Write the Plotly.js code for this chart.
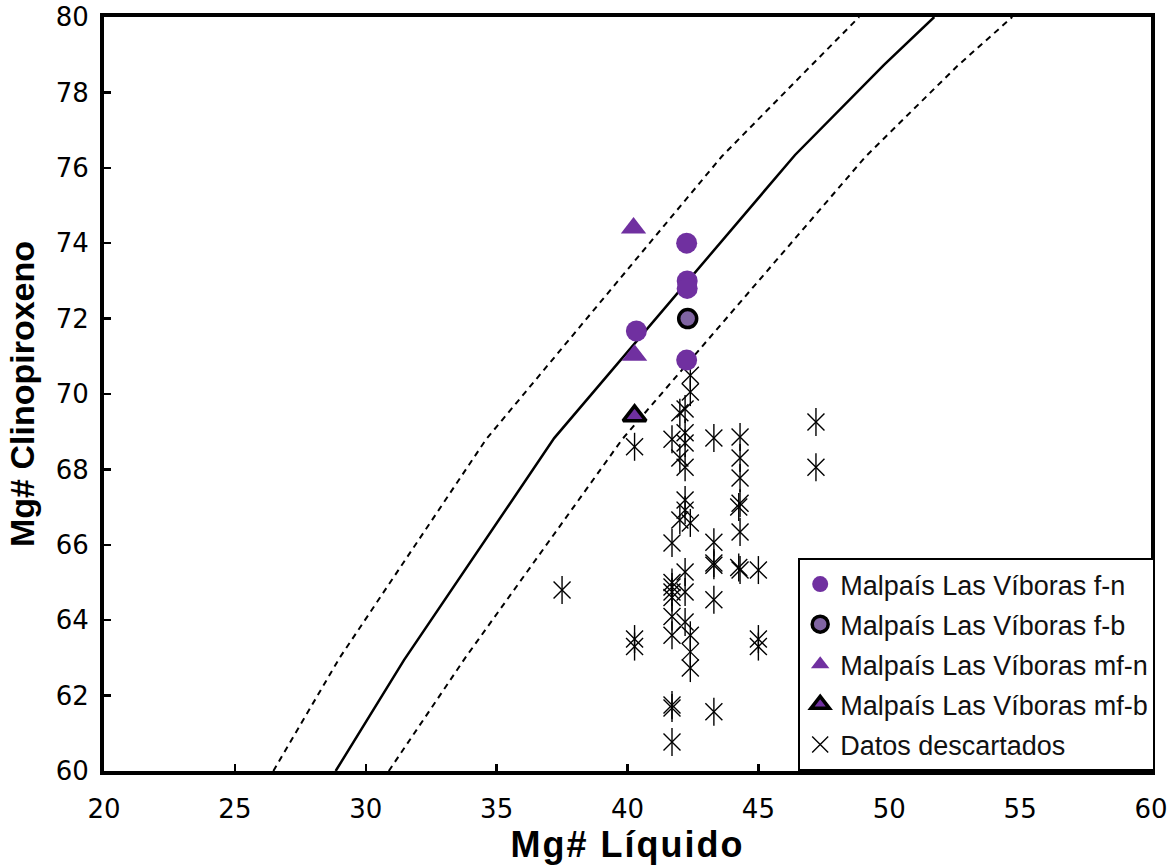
<!DOCTYPE html>
<html>
<head>
<meta charset="utf-8">
<script src="https://cdn.plot.ly/plotly-3.0.1.min.js"></script>
<style>html,body{margin:0;padding:0;background:#fff;}#chart{width:1169px;height:867px;}
.xtitle{letter-spacing:2px;}</style>
</head>
<body>
<div id="chart"></div>
<script>
// Equilibrium curve (solid) and its limits (dashed)
const eqX   = [28.85, 31.46, 37.2, 46.4, 49.8, 51.72];
const eqY   = [60, 62.94, 68.83, 76.34, 78.73, 80];
const loX   = [26.47, 29.0, 34.6, 43.6, 47.0, 48.85];
const loY   = [60, 63.0, 68.8, 76.3, 78.7, 80];
const hiX   = [30.88, 33.8, 39.8, 49.1, 52.6, 54.7];
const hiY   = [60, 63.0, 68.8, 76.3, 78.7, 80];

// Malpaís Las Víboras
const fnX  = [42.26, 42.28, 42.28, 42.26, 40.34];
const fnY  = [74.0, 73.0, 72.8, 70.9, 71.67];
const fbX  = [42.3];
const fbY  = [72.0];
const mfnX = [40.23, 40.27];
const mfnY = [74.4, 71.03];
const mfbX = [40.27];
const mfbY = [69.42];

// Datos descartados
const descX = [
  40.27, 40.27, 40.27,
  41.7, 41.7, 41.7, 41.7, 41.7, 41.7, 41.7, 41.7, 41.7, 41.7, 41.7,
  42.0, 42.0, 42.0,
  42.2, 42.2, 42.2, 42.2, 42.2, 42.2, 42.2, 42.2, 42.2,
  42.4, 42.4, 42.4, 42.4, 42.4, 42.4,
  43.3, 43.3, 43.3, 43.3, 43.3, 43.3,
  44.3, 44.3, 44.3, 44.3, 44.25, 44.3, 44.3, 44.25,
  45.0, 45.0, 45.0,
  47.2, 47.2,
  37.5
];
const descY = [
  68.6, 63.5, 63.3,
  68.8, 66.05, 65.0, 64.88, 64.75, 64.6, 64.1, 63.6, 61.75, 61.67, 60.77,
  69.5, 68.3, 66.66,
  69.6, 68.97, 68.7, 68.06, 67.19, 66.92, 65.28, 64.75, 63.95,
  70.5, 70.05, 66.58, 63.6, 63.16, 62.73,
  68.83, 66.07, 65.52, 65.46, 64.54, 61.57,
  68.86, 68.3, 67.77, 67.1, 67.0, 66.34, 65.33, 65.4,
  65.33, 63.5, 63.3,
  69.26, 68.06,
  64.8
];

const xTicks = [20, 25, 30, 35, 40, 45, 50, 55, 60];
const yTicks = [60, 62, 64, 66, 68, 70, 72, 74, 76, 78, 80];

const purple = '#7030A0';
const purpleLight = '#8064A2';

const traces = [
  {x: loX, y: loY, mode: 'lines', line: {color: '#000', width: 2, dash: '6px,5px'}, showlegend: false, hoverinfo: 'skip'},
  {x: hiX, y: hiY, mode: 'lines', line: {color: '#000', width: 2, dash: '6px,5px'}, showlegend: false, hoverinfo: 'skip'},
  {x: eqX, y: eqY, mode: 'lines', line: {color: '#000', width: 2.5}, showlegend: false, hoverinfo: 'skip'},
  {x: descX, y: descY, mode: 'markers', name: 'Datos descartados', legendgroup: 'e', legendrank: 5,
   marker: {symbol: 'x-thin-open', size: 17, color: '#000', line: {color: '#000', width: 1.4}}},
  {x: descX, y: descY, mode: 'markers', name: 'Datos descartados', legendgroup: 'e', showlegend: false,
   marker: {symbol: 'line-ns-open', size: 20, color: '#000', line: {color: '#000', width: 1.4}}},
  {x: fnX, y: fnY, mode: 'markers', name: 'Malpaís Las Víboras f-n', legendgroup: 'a', legendrank: 1,
   marker: {symbol: 'circle', size: 21, color: purple, line: {width: 0}}},
  {x: fbX, y: fbY, mode: 'markers', name: 'Malpaís Las Víboras f-b', legendgroup: 'b', legendrank: 2,
   marker: {symbol: 'circle', size: 18, color: purpleLight, line: {color: '#000', width: 3.5}}},
  {x: mfnX, y: mfnY, mode: 'markers', name: 'Malpaís Las Víboras mf-n', legendgroup: 'c', legendrank: 3,
   marker: {symbol: 'triangle-up', size: 22, color: purple, line: {width: 0}}},
  {x: mfbX, y: mfbY, mode: 'markers', name: 'Malpaís Las Víboras mf-b', legendgroup: 'd', legendrank: 4,
   marker: {symbol: 'triangle-up', size: 20, color: purple, line: {color: '#000', width: 3.5}}}
];

const xTitleFont = {family: '"Liberation Sans", Arial, sans-serif', size: 36, color: '#000', weight: 'bold'};
const yTitleFont = {family: '"Liberation Sans", Arial, sans-serif', size: 34, color: '#000', weight: 'bold'};
const tickFont = {family: '"DejaVu Sans", Verdana, sans-serif', size: 26, color: '#000'};

const layout = {
  width: 1169, height: 867,
  margin: {l: 104, r: 18, t: 17, b: 96},
  paper_bgcolor: '#fff', plot_bgcolor: '#fff',
  showlegend: true,
  xaxis: {
    range: [20, 60], tickvals: xTicks, ticktext: xTicks.map(String),
    ticks: 'inside', ticklen: 7, tickwidth: 2.5, tickcolor: '#000',
    showline: true, linecolor: '#000', linewidth: 4, mirror: true,
    showgrid: false, zeroline: false, tickfont: tickFont, ticklabelstandoff: 12,
    title: {text: 'Mg# Líquido', font: xTitleFont, standoff: 8}
  },
  yaxis: {
    range: [60, 80], tickvals: yTicks, ticktext: yTicks.map(String),
    ticks: 'inside', ticklen: 7, tickwidth: 2.5, tickcolor: '#000',
    showline: true, linecolor: '#000', linewidth: 4, mirror: true,
    showgrid: false, zeroline: false, tickfont: tickFont, ticklabelstandoff: 6,
    title: {text: 'Mg# Clinopiroxeno', font: yTitleFont, standoff: 12}
  },
  legend: {
    x: 1.004, xanchor: 'right', y: 0, yanchor: 'bottom',
    bgcolor: '#fff', bordercolor: '#000', borderwidth: 2,
    font: {family: '"Liberation Sans", Arial, sans-serif', size: 27, color: '#111'},
    traceorder: 'grouped', tracegroupgap: 2, itemsizing: 'trace'
  }
};

Plotly.newPlot('chart', traces, layout, {displayModeBar: false, staticPlot: true});
</script>
</body>
</html>
